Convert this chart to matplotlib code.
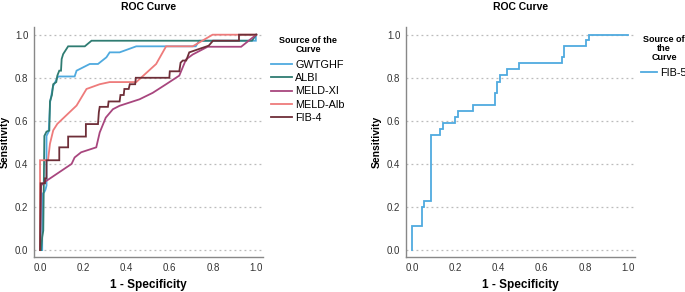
import matplotlib
matplotlib.use("Agg")
import matplotlib.pyplot as plt

plt.rcParams['font.family'] = ['Liberation Sans', 'DejaVu Sans']

# ROC points (1 - specificity, sensitivity)
gwtghf_x = [0, 0.01, 0.01, 0.02, 0.025, 0.03, 0.03, 0.04, 0.047, 0.06, 0.07, 0.08, 0.085, 0.16, 0.169,
            0.23, 0.268, 0.307, 0.322, 0.368, 0.445, 0.72, 0.736, 0.998, 0.998]
gwtghf_y = [0, 0.0, 0.26, 0.27, 0.28, 0.3, 0.53, 0.55, 0.69, 0.76, 0.78, 0.8, 0.806, 0.806, 0.833,
            0.864, 0.864, 0.895, 0.918, 0.918, 0.946, 0.946, 0.972, 0.972, 1.0]

albi_x = [0, 0.005, 0.01, 0.015, 0.02, 0.03, 0.043, 0.046, 0.055, 0.061, 0.075, 0.08, 0.089, 0.097,
          0.1, 0.107, 0.13, 0.207, 0.238, 0.98, 1.0]
albi_y = [0, 0.0, 0.06, 0.09, 0.53, 0.55, 0.555, 0.69, 0.72, 0.77, 0.78, 0.81, 0.833, 0.833,
          0.887, 0.91, 0.946, 0.946, 0.972, 0.972, 1.0]

meldxi_x = [0, 0.005, 0.02, 0.146, 0.16, 0.19, 0.26, 0.276, 0.304, 0.337, 0.368, 0.46, 0.521,
            0.583, 0.644, 0.675, 0.706, 0.775, 0.93, 1.0]
meldxi_y = [0, 0.3, 0.315, 0.4, 0.43, 0.454, 0.477, 0.546, 0.615, 0.654, 0.67, 0.7, 0.73,
            0.77, 0.81, 0.885, 0.908, 0.944, 0.944, 1.0]

meldalb_x = [0, 0.0, 0.037, 0.046, 0.061, 0.08, 0.169, 0.215, 0.276, 0.322, 0.445, 0.537, 0.583,
             0.706, 0.798, 1.0]
meldalb_y = [0, 0.417, 0.417, 0.494, 0.556, 0.586, 0.671, 0.748, 0.77, 0.78, 0.78, 0.864, 0.946,
             0.946, 1.0, 1.0]

fib4_x = [0, 0.003, 0.023, 0.023, 0.03, 0.03, 0.089, 0.089, 0.13, 0.13, 0.212, 0.212, 0.268, 0.272,
          0.276, 0.314, 0.317, 0.368, 0.372, 0.387, 0.39, 0.41, 0.415, 0.44, 0.443, 0.598, 0.6,
          0.644, 0.65, 0.66, 0.676, 0.69, 0.78, 0.8, 0.92, 0.92, 1.0]
fib4_y = [0, 0.31, 0.31, 0.333, 0.333, 0.417, 0.417, 0.477, 0.477, 0.527, 0.527, 0.585, 0.585, 0.64,
          0.665, 0.665, 0.69, 0.69, 0.72, 0.72, 0.748, 0.748, 0.77, 0.77, 0.8, 0.8, 0.83,
          0.83, 0.87, 0.88, 0.88, 0.918, 0.949, 0.972, 0.972, 1.0, 1.0]

fib5_x = [0, 0, 0.045, 0.045, 0.057, 0.057, 0.088, 0.088, 0.13, 0.13, 0.143, 0.143, 0.2, 0.2,
          0.212, 0.212, 0.282, 0.282, 0.383, 0.383, 0.394, 0.394, 0.406, 0.406, 0.437, 0.437,
          0.495, 0.495, 0.693, 0.693, 0.704, 0.704, 0.805, 0.805, 0.817, 0.817, 1.0]
fib5_y = [0, 0.113, 0.113, 0.198, 0.198, 0.228, 0.228, 0.534, 0.534, 0.56, 0.56, 0.588, 0.588, 0.619,
          0.619, 0.645, 0.645, 0.673, 0.673, 0.728, 0.728, 0.782, 0.782, 0.813, 0.813, 0.839,
          0.839, 0.87, 0.87, 0.895, 0.895, 0.949, 0.949, 0.975, 0.975, 1.0, 1.0]

left_series = [
    ("GWTGHF", gwtghf_x, gwtghf_y, "#4faadf"),
    ("ALBI", albi_x, albi_y, "#2f7c72"),
    ("MELD-XI", meldxi_x, meldxi_y, "#a8467e"),
    ("MELD-Alb", meldalb_x, meldalb_y, "#ee7b7b"),
    ("FIB-4", fib4_x, fib4_y, "#6e2e38"),
]
right_series = [("FIB-5", fib5_x, fib5_y, "#4faadf")]

ticks = [0.0, 0.2, 0.4, 0.6, 0.8, 1.0]
tick_labels = ["0.0", "0.2", "0.4", "0.6", "0.8", "1.0"]

fig = plt.figure(figsize=(6.85, 2.92), dpi=100)
ax1 = fig.add_axes([0.0496, 0.120, 0.334, 0.787])
ax2 = fig.add_axes([0.5927, 0.120, 0.334, 0.787])


def style_roc(ax, series, legend_title, handle_len, anchor):
    for name, xs, ys, col in series:
        ax.plot(xs, ys, color=col, lw=1.3, label=name, solid_joinstyle='miter')
    ax.set_xlim(-0.028, 1.03)
    ax.set_ylim(-0.032, 1.035)
    ax.set_xticks(ticks)
    ax.set_xticklabels(tick_labels)
    ax.set_yticks(ticks)
    ax.set_yticklabels(tick_labels)
    ax.tick_params(length=0, labelsize=7, colors="#333333", pad=4)
    for y in ticks:
        ax.axhline(y, color="#bbbbbb", lw=0.9, ls=(0, (1.5, 2.5)), zorder=0)
    for s in ["top", "right"]:
        ax.spines[s].set_visible(False)
    for s in ["left", "bottom"]:
        ax.spines[s].set_color("#888888")
        ax.spines[s].set_linewidth(1.0)
    ax.set_title("ROC Curve", fontsize=7.5, fontweight="bold", pad=12)
    ax.set_xlabel("1 - Specificity", fontsize=8.5, fontweight="bold", labelpad=5)
    ax.set_ylabel("Sensitivity", fontsize=7.5, fontweight="bold", labelpad=4)
    leg = ax.legend(title=legend_title, loc="upper left", bbox_to_anchor=anchor,
                    frameon=False, fontsize=7.8, borderaxespad=0, handlelength=handle_len,
                    handletextpad=0.3, labelspacing=0.3, borderpad=0)
    leg.get_title().set_fontweight("bold")
    leg.get_title().set_fontsize(6.5)
    leg.get_title().set_multialignment("center")
    leg.get_title().set_linespacing(1.0)
    leg._legend_box.align = "center"
    leg._legend_box.sep = 4.5


style_roc(ax1, left_series, "Source of the\nCurve", 1.9, (1.037, 0.963))
style_roc(ax2, right_series, "Source of\nthe\nCurve", 1.4, (1.029, 0.967))

fig.savefig("out.png", dpi=100)
